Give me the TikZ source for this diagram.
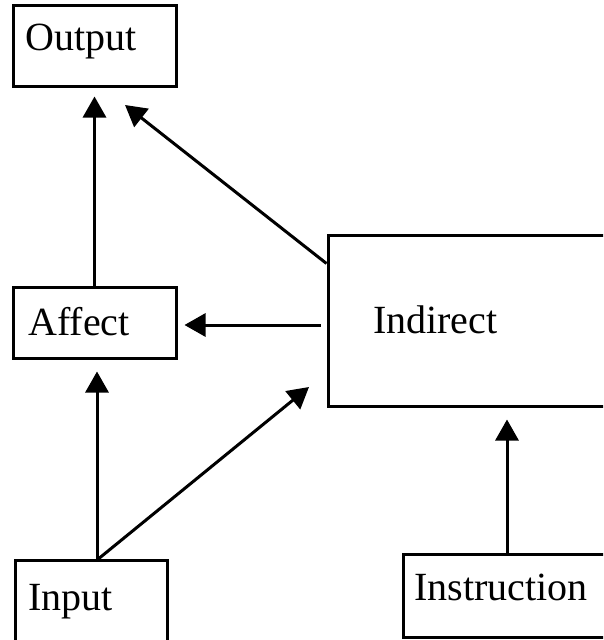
\documentclass[tikz,border=0pt]{standalone}
\usepackage{fontspec}
\setmainfont{Liberation Serif}
\usetikzlibrary{arrows.meta}
\begin{document}
\begin{tikzpicture}[x=1pt,y=-1pt,
  box/.style={draw, line width=3pt, rectangle, inner sep=0pt},
  lbl/.style={anchor=base west, inner sep=0pt, font=\fontsize{40}{42}\selectfont},
  arr/.style={line width=3pt, -{Triangle[length=21pt,width=23pt]}}]
\useasboundingbox (0,0) rectangle (603,640);
\clip (0,0) rectangle (603,640);
% boxes
\node[box, minimum width=163pt, minimum height=81pt] (output) at (94.5,45.5) {};
\node[box, minimum width=163pt, minimum height=71pt] (affect) at (94.5,322.5) {};
\node[box, minimum width=292pt, minimum height=171pt] (indirect) at (474,320.5) {};
\node[box, minimum width=152pt, minimum height=100pt] (input) at (91,610) {};
\node[box, minimum width=230pt, minimum height=83pt] (instr) at (518,595.5) {};
% labels
\node[lbl] (toutput) at (25,50) {Output};
\node[lbl] (taffect) at (28,335) {Affect};
\node[lbl] (tindirect) at (373,333) {Indirect};
\node[lbl] (tinput) at (28,610) {Input};
\node[lbl] (tinstr) at (414,600) {Instruction};
% anchor points
\coordinate (ia) at (97,560);
\coordinate (t1) at (125,105);
\coordinate (t2) at (309,387);
\coordinate (ib) at (507,554);
% connectors
\draw[arr] (affect.north) -- ([yshift=-9pt]output.south);
\draw[arr] ([yshift=-30pt]indirect.north west) -- (t1);
\draw[arr] ([xshift=-6pt]indirect.west |- 0,325) -- ([xshift=7pt]affect.east |- 0,325);
\draw[arr] (ia) -- ([yshift=-12pt]ia |- affect.south);
\draw[arr] (ia) -- (t2);
\draw[arr] (ib) -- ([yshift=-12pt]ib |- indirect.south);
\end{tikzpicture}
\end{document}
